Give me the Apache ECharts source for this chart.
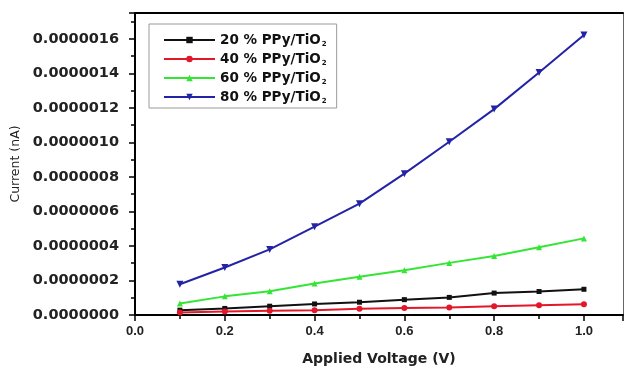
<!DOCTYPE html>
<html>
<head>
<meta charset="utf-8">
<script src="https://cdn.jsdelivr.net/npm/echarts@6/dist/echarts.min.js"></script>
<style>
html,body{margin:0;padding:0;background:#fff;}
#c{width:629px;height:371px;}
</style>
</head>
<body>
<div id="c"></div>
<script>
var voltage = [0.1, 0.2, 0.3, 0.4, 0.5, 0.6, 0.7, 0.8, 0.9, 1.0];
var ppy20 = [2.8e-8, 3.8e-8, 5.1e-8, 6.4e-8, 7.4e-8, 8.9e-8, 1.02e-7, 1.27e-7, 1.36e-7, 1.49e-7];
var ppy40 = [1.5e-8, 2.0e-8, 2.4e-8, 2.8e-8, 3.6e-8, 4.1e-8, 4.4e-8, 5.1e-8, 5.7e-8, 6.2e-8];
var ppy60 = [6.6e-8, 1.08e-7, 1.38e-7, 1.82e-7, 2.21e-7, 2.59e-7, 3.02e-7, 3.42e-7, 3.92e-7, 4.44e-7];
var ppy80 = [1.78e-7, 2.75e-7, 3.80e-7, 5.12e-7, 6.45e-7, 8.19e-7, 1.004e-6, 1.193e-6, 1.405e-6, 1.623e-6];
var seriesNames = ['20 % PPy/TiO2', '40 % PPy/TiO2', '60 % PPy/TiO2', '80 % PPy/TiO2'];
var xTitle = 'Applied Voltage (V)';
var yTitle = 'Current (nA)';

function pairs(ys){ return voltage.map(function(x,i){ return [x, ys[i]]; }); }

var chart = echarts.init(document.getElementById('c'));
var colors = ['#111111', '#e3172a', '#33e633', '#2323a6'];
var symbols = ['rect', 'circle', 'triangle', 'triangle'];
var rotates = [0, 0, 0, 180];
var sizes = [5, 6, 6, 7];
var data = [ppy20, ppy40, ppy60, ppy80];

var series = data.map(function(d, i){
  return {
    name: seriesNames[i],
    type: 'line',
    data: pairs(d),
    symbol: symbols[i],
    symbolRotate: rotates[i],
    symbolSize: sizes[i],
    showAllSymbol: true,
    color: colors[i],
    lineStyle: {color: colors[i], width: 2},
    itemStyle: {color: colors[i]},
    z: 3 + i
  };
});

var option = {
  animation: false,
  backgroundColor: '#ffffff',
  grid: {left: 135, right: 6, top: 13, bottom: 50},
  legend: {
    orient: 'vertical',
    left: 149, top: 24,
    padding: [8, 10, 3, 14],
    itemWidth: 51, itemHeight: 8, itemGap: 3,
    borderColor: '#9a9a9a', borderWidth: 1,
    data: seriesNames,
    formatter: function(n){ return '{a|' + n.slice(0, -1) + '}{s|' + n.slice(-1) + '}'; },
    textStyle: {
      rich: {
        a: {fontFamily: 'DejaVu Sans', fontWeight: 'bold', fontSize: 13.5, color: '#111', lineHeight: 14},
        s: {fontFamily: 'DejaVu Sans', fontWeight: 'bold', fontSize: 7, color: '#111', lineHeight: 5, padding: [9, 0, 0, 1]}
      }
    }
  },
  xAxis: [{
    type: 'value', min: 0, max: 1.087, interval: 0.2,
    name: xTitle, nameLocation: 'middle', nameGap: 37,
    nameTextStyle: {fontFamily: 'DejaVu Sans', fontWeight: 'bold', fontSize: 14, color: '#222'},
    axisLine: {show: true, onZero: false, lineStyle: {color: '#000', width: 2}},
    axisTick: {show: true, inside: false, length: 6, lineStyle: {color: '#000', width: 1.5}},
    minorTick: {show: true, splitNumber: 2, length: 4, lineStyle: {color: '#000', width: 1.5}},
    axisLabel: {
      margin: 10, showMaxLabel: false,
      fontFamily: 'Liberation Sans', fontWeight: 'bold', fontSize: 13, color: '#222',
      formatter: function(v){ return v.toFixed(1); }
    },
    splitLine: {show: false}
  }, {
    type: 'value', min: 0, max: 1.087, position: 'top',
    axisLine: {show: true, onZero: false, lineStyle: {color: '#000', width: 2}},
    axisTick: {show: false}, axisLabel: {show: false}, splitLine: {show: false}
  }],
  yAxis: [{
    type: 'value', min: 0, max: 1.75e-6, interval: 2e-7,
    name: yTitle, nameLocation: 'middle', nameGap: 112, nameRotate: 90,
    nameTextStyle: {fontFamily: 'DejaVu Sans', fontSize: 12.5, color: '#222'},
    axisLine: {show: true, onZero: false, lineStyle: {color: '#000', width: 2}},
    axisTick: {show: true, inside: false, length: 6, lineStyle: {color: '#000', width: 1.5}},
    minorTick: {show: true, splitNumber: 2, length: 4, lineStyle: {color: '#000', width: 1.5}},
    axisLabel: {
      margin: 16, showMaxLabel: false,
      fontFamily: 'DejaVu Sans', fontWeight: 'bold', fontSize: 14.5, color: '#222',
      formatter: function(v){ return v.toFixed(7); }
    },
    splitLine: {show: false}
  }, {
    type: 'value', min: 0, max: 1.75e-6, position: 'right',
    axisLine: {show: true, onZero: false, lineStyle: {color: '#666', width: 1}},
    axisTick: {show: false}, axisLabel: {show: false}, splitLine: {show: false}
  }],
  series: series
};
chart.setOption(option);
</script>
</body>
</html>
